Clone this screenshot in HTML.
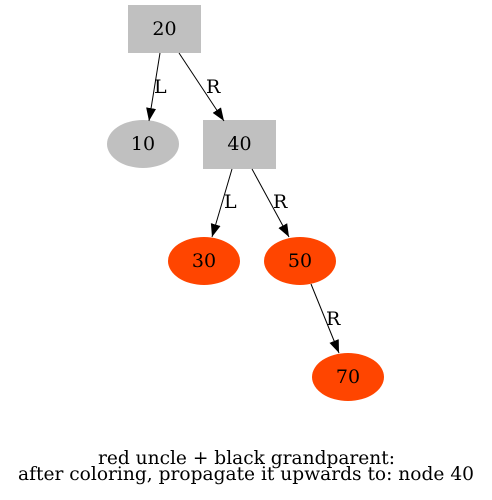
<!DOCTYPE html>
<html><head><meta charset="utf-8"><style>
html,body{margin:0;padding:0;background:#fff;}
svg{display:block;}
text{font-family:"DejaVu Serif","Liberation Serif",serif;font-size:19px;fill:#000;}
</style></head><body>
<svg width="492" height="500" viewBox="0 0 492 500" xmlns="http://www.w3.org/2000/svg">
<defs><marker id="a" markerWidth="14" markerHeight="12" refX="13" refY="6" orient="auto" markerUnits="userSpaceOnUse"><path d="M0,1 L13,6 L0,11 Z" fill="#000"/></marker></defs>
<rect x="128" y="5" width="73" height="48" fill="#c0c0c0"/>
<text x="164.5" y="35" text-anchor="middle">20</text>
<ellipse cx="143" cy="144" rx="36" ry="24" fill="#c0c0c0"/>
<text x="143" y="150" text-anchor="middle">10</text>
<rect x="203" y="120" width="73" height="49" fill="#c0c0c0"/>
<text x="239.5" y="150" text-anchor="middle">40</text>
<ellipse cx="204" cy="261" rx="36" ry="24" fill="#ff4500"/>
<text x="204" y="267" text-anchor="middle">30</text>
<ellipse cx="300" cy="261" rx="36" ry="24" fill="#ff4500"/>
<text x="300" y="267" text-anchor="middle">50</text>
<ellipse cx="348" cy="377" rx="36" ry="24" fill="#ff4500"/>
<text x="348" y="383" text-anchor="middle">70</text>
<g stroke="#000" stroke-width="1" fill="none">
<line x1="160" y1="53" x2="149" y2="121" marker-end="url(#a)"/>
<line x1="179" y1="53" x2="224" y2="121" marker-end="url(#a)"/>
<line x1="232" y1="169" x2="212" y2="237" marker-end="url(#a)"/>
<line x1="252" y1="169" x2="289" y2="237" marker-end="url(#a)"/>
<line x1="311" y1="284" x2="339" y2="353" marker-end="url(#a)"/>
</g>
<text x="154" y="93">L</text>
<text x="206" y="93">R</text>
<text x="224" y="208">L</text>
<text x="273" y="208">R</text>
<text x="326" y="325">R</text>
<text x="98" y="464" font-size="17" textLength="297" lengthAdjust="spacingAndGlyphs">red uncle + black grandparent:</text>
<text x="18" y="480" font-size="17" textLength="456" lengthAdjust="spacingAndGlyphs">after coloring, propagate it upwards to: node 40</text>
</svg>
</body></html>
